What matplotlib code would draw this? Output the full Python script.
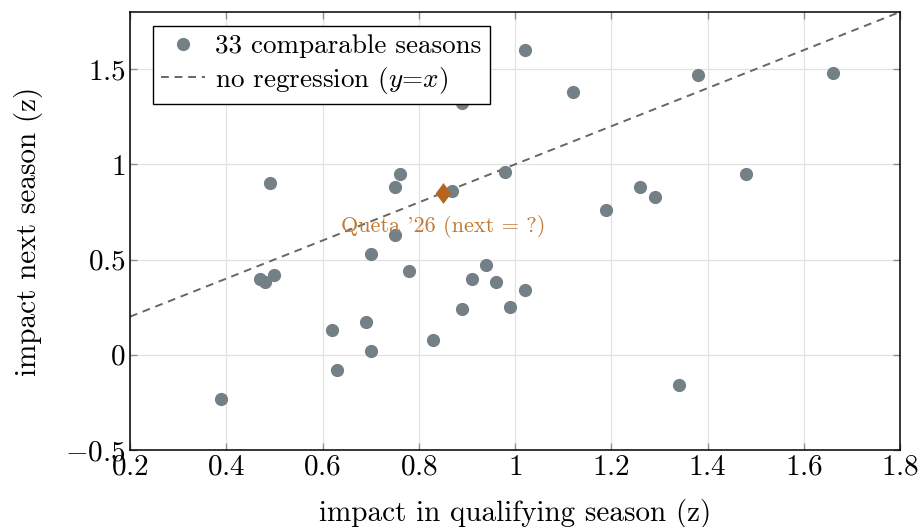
import matplotlib
matplotlib.use("Agg")
import matplotlib.pyplot as plt
from matplotlib.ticker import FuncFormatter, MultipleLocator

plt.rcParams["font.family"] = "serif"
plt.rcParams["font.serif"] = ["cmr10"]
plt.rcParams["mathtext.fontset"] = "cm"
plt.rcParams["axes.formatter.use_mathtext"] = True
plt.rcParams["axes.unicode_minus"] = False

# impact z-scores: qualifying season vs next season
qual = [0.39, 0.47, 0.48, 0.49, 0.50, 0.62, 0.63, 0.69, 0.70, 0.70, 0.75,
        0.75, 0.76, 0.78, 0.83, 0.87, 0.89, 0.89, 0.91, 0.94, 0.96, 0.98,
        0.99, 1.02, 1.02, 1.12, 1.19, 1.26, 1.29, 1.34, 1.38, 1.48, 1.66]
nxt = [-0.23, 0.40, 0.38, 0.90, 0.42, 0.13, -0.08, 0.17, 0.53, 0.02, 0.63,
       0.88, 0.95, 0.44, 0.08, 0.86, 1.32, 0.24, 0.40, 0.47, 0.38, 0.96,
       0.25, 1.60, 0.34, 1.38, 0.76, 0.88, 0.83, -0.16, 1.47, 0.95, 1.48]
queta_x, queta_y = 0.85, 0.85
diag = [0.2, 1.8]

fig = plt.figure(figsize=(9.21, 5.27), dpi=100)
ax = fig.add_axes([130 / 921, 1 - 450 / 527, 770 / 921, 438 / 527])

ax.grid(True, color="#e2e2e2", linewidth=0.9)
ax.set_axisbelow(True)

ax.plot(diag, diag, linestyle=(0, (4, 3)), color="#666666", linewidth=1.4,
        label="no regression ($y$=$x$)", zorder=2)
ax.plot(qual, nxt, "o", color="#738086", markersize=9.5, markeredgewidth=0,
        label="33 comparable seasons", zorder=3)

diamond = [(0, 1), (0.75, 0), (0, -1), (-0.75, 0), (0, 1)]
ax.plot([queta_x], [queta_y], marker=diamond, color="#b5651d", markersize=15,
        markeredgewidth=0, linestyle="none", zorder=4)
ax.text(queta_x, 0.675, "Queta '26 (next = ?)", color="#c27a35",
        fontsize=16, ha="center", va="center", zorder=5)

ax.set_xlim(0.2, 1.8)
ax.set_ylim(-0.5, 1.8)
ax.xaxis.set_major_locator(MultipleLocator(0.2))
ax.yaxis.set_major_locator(MultipleLocator(0.5))
fmt = FuncFormatter(lambda v, p: "$%g$" % round(v, 2))
ax.xaxis.set_major_formatter(fmt)
ax.yaxis.set_major_formatter(fmt)
ax.tick_params(direction="in", length=5, width=1, color="#909090",
               top=True, right=True, labelsize=21, pad=3)
for s in ax.spines.values():
    s.set_linewidth(1.1)
    s.set_color("black")

ax.set_xlabel("impact in qualifying season (z)", fontsize=21, labelpad=13)
ax.set_ylabel("impact next season (z)", fontsize=21, labelpad=16)

handles, labels = ax.get_legend_handles_labels()
leg = ax.legend(handles[::-1], labels[::-1], loc="upper left",
                bbox_to_anchor=(0.03, 0.968), borderaxespad=0, fontsize=19.5,
                fancybox=False, edgecolor="black", framealpha=1,
                handlelength=1.6, handletextpad=0.4,
                borderpad=0.3, labelspacing=0.25)
leg.get_frame().set_linewidth(1.0)

fig.savefig("out.png", dpi=100)
